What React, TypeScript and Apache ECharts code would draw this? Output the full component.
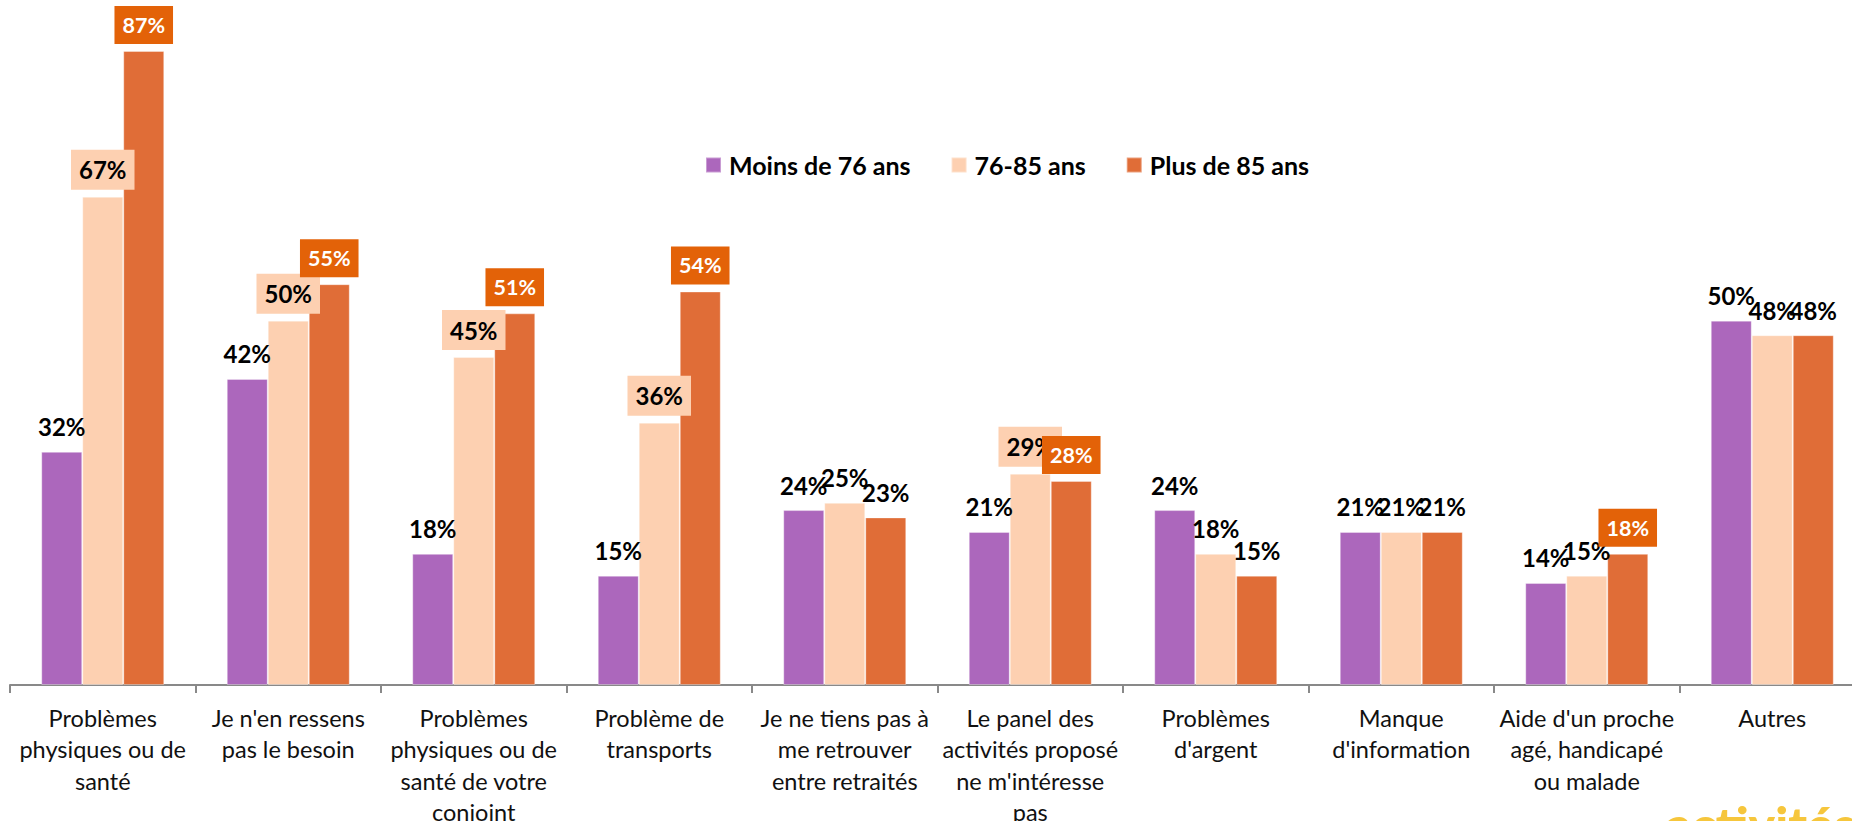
import React, { useEffect, useRef } from "react";
import * as echarts from "echarts";

const categories = [
  "Problèmes\nphysiques ou de\nsanté",
  "Je n'en ressens\npas le besoin",
  "Problèmes\nphysiques ou de\nsanté de votre\nconjoint",
  "Problème de\ntransports",
  "Je ne tiens pas à\nme retrouver\nentre retraités",
  "Le panel des\nactivités proposé\nne m'intéresse\npas",
  "Problèmes\nd'argent",
  "Manque\nd'information",
  "Aide d'un proche\nagé, handicapé\nou malade",
  "Autres",
];

const seriesNames = ["Moins de 76 ans", "76-85 ans", "Plus de 85 ans"];
const moins76 = [32, 42, 18, 15, 24, 21, 24, 21, 14, 50];
const de76a85 = [67, 50, 45, 36, 25, 29, 18, 21, 15, 48];
const plus85 = [87, 55, 51, 54, 23, 28, 15, 21, 18, 48];

// indices of categories whose labels are shown in a coloured box
const boxed76a85 = [0, 1, 2, 3, 5];
const boxedPlus85 = [0, 1, 2, 3, 5, 8];

const PURPLE = "#AC67BC";
const PEACH = "#FDD0B1";
const ORANGE = "#E06D37";
const ORANGE_BOX = "#E36208";
const FONT = "Lato";

export default function App() {
  const ref = useRef<HTMLDivElement>(null);

  useEffect(() => {
    if (!ref.current) return;
    const chart = echarts.init(ref.current, undefined, { renderer: "svg" });

    const baseLabel = {
      show: true,
      position: "top",
      distance: 12,
      formatter: "{c}%",
      fontFamily: FONT,
      fontWeight: "bold",
      fontSize: 24,
      lineHeight: 26,
      color: "#000",
    };

    const makeData = (vals: number[], boxed: number[], boxLabel: any) =>
      vals.map((v, i) => (boxed.includes(i) ? { value: v, label: boxLabel } : { value: v }));

    const peachBox = {
      backgroundColor: PEACH,
      color: "#000",
      padding: [7, 8, 7, 8],
      distance: 7,
    };
    const orangeBox = {
      backgroundColor: ORANGE_BOX,
      color: "#fff",
      fontSize: 21.5,
      lineHeight: 24,
      padding: [7, 8, 7, 8],
      distance: 7,
    };

    const barCommon = {
      type: "bar",
      barWidth: 41,
      barGap: "0%",
      label: baseLabel,
      itemStyle: { borderColor: "rgba(255,255,255,0.35)", borderWidth: 1 },
    };

    chart.setOption({
      animation: false,
      backgroundColor: "#ffffff",
      grid: { left: 10, top: 0, width: 1855, height: 685, outerBoundsMode: "none", containLabel: false },
      legend: {
        data: seriesNames,
        left: 700,
        top: 145,
        icon: "rect",
        itemWidth: 15,
        itemHeight: 15,
        itemGap: 40,
        textStyle: {
          fontFamily: FONT,
          fontWeight: "bold",
          fontSize: 25,
          lineHeight: 30,
          color: "#000",
          padding: [0, 0, 0, 3],
        },
      },
      xAxis: {
        type: "category",
        data: categories,
        axisLine: { lineStyle: { color: "#898989", width: 2 } },
        axisTick: { show: true, length: 8, lineStyle: { color: "#898989", width: 2 } },
        axisLabel: {
          interval: 0,
          margin: 17,
          fontFamily: FONT,
          fontSize: 23.5,
          lineHeight: 31.5,
          color: "#111",
        },
      },
      yAxis: { type: "value", min: 0, max: 94, show: false, splitLine: { show: false } },
      series: [
        {
          ...barCommon,
          name: seriesNames[0],
          data: moins76.map((v) => ({ value: v })),
          itemStyle: { ...barCommon.itemStyle, color: PURPLE },
        },
        {
          ...barCommon,
          name: seriesNames[1],
          data: makeData(de76a85, boxed76a85, peachBox),
          itemStyle: { ...barCommon.itemStyle, color: PEACH },
        },
        {
          ...barCommon,
          name: seriesNames[2],
          data: makeData(plus85, boxedPlus85, orangeBox),
          itemStyle: { ...barCommon.itemStyle, color: ORANGE },
        },
      ],
      graphic: [
        {
          type: "text",
          x: 1666,
          y: 824,
          silent: true,
          style: {
            text: "activités",
            fontFamily: FONT,
            fontWeight: 900,
            fontSize: 50,
            fill: "#F6C63C",
            verticalAlign: "middle",
            align: "left",
          },
        },
      ],
    });

    return () => chart.dispose();
  }, []);

  return (
    <div
      ref={ref}
      style={{ position: "fixed", left: 0, top: 0, width: 1852, height: 821, background: "#fff" }}
    />
  );
}
